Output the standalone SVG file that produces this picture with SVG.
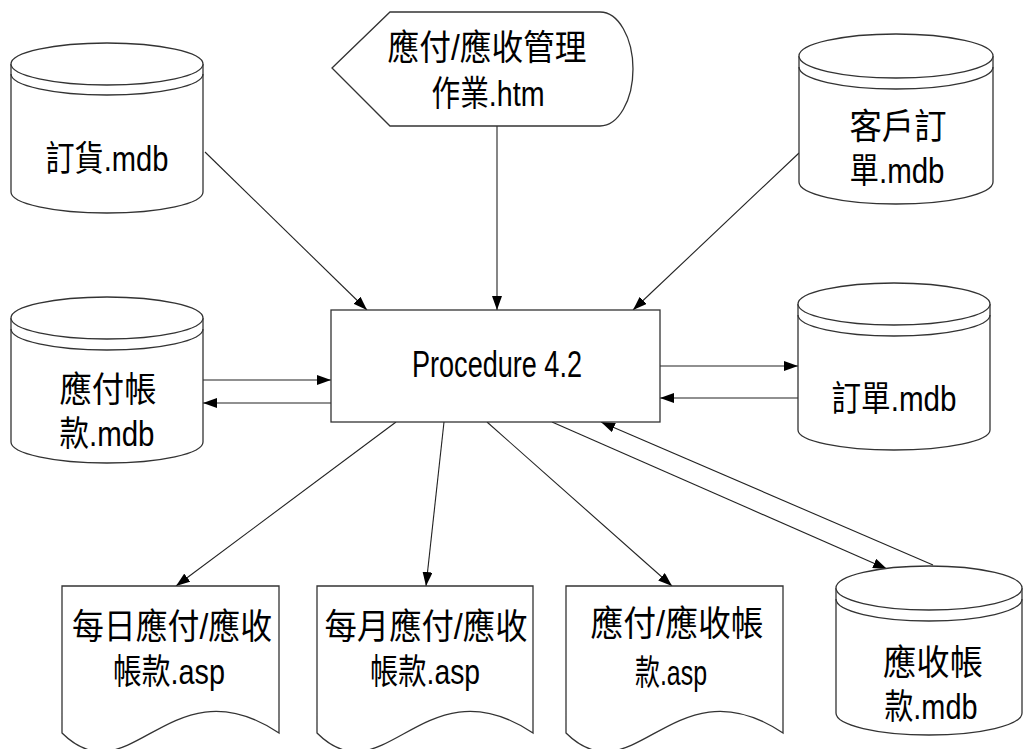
<svg xmlns="http://www.w3.org/2000/svg" width="1024" height="749" viewBox="0 0 1024 749">
<defs>
<style>
.shape{fill:#fff;stroke:#333;stroke-width:1.3}
.inner{fill:none;stroke:#333;stroke-width:1.3}
.lbl{font-family:"Liberation Sans","Noto Sans CJK TC",sans-serif;font-size:35px;fill:#000;text-anchor:middle}
.conn{fill:none;stroke:#222;stroke-width:1.1;marker-end:url(#arr)}
</style>
<marker id="arr" viewBox="0 0 14 10" refX="14" refY="5" markerWidth="14" markerHeight="10" markerUnits="userSpaceOnUse" orient="auto">
<path d="M0,0 L14,5 L0,10 z" fill="#000"/>
</marker>
</defs>
<rect width="1024" height="749" fill="#fff"/>

<g id="connectors">
<line class="conn" x1="205" y1="152" x2="367" y2="310"/>
<line class="conn" x1="497" y1="126" x2="497" y2="310"/>
<line class="conn" x1="799" y1="153" x2="633" y2="310"/>
<line class="conn" x1="203" y1="380" x2="331" y2="380"/>
<line class="conn" x1="331" y1="403" x2="203" y2="403"/>
<line class="conn" x1="660" y1="366" x2="798" y2="366"/>
<line class="conn" x1="798" y1="398" x2="660" y2="398"/>
<line class="conn" x1="396" y1="422" x2="176" y2="586"/>
<line class="conn" x1="444" y1="422" x2="426" y2="586"/>
<line class="conn" x1="487" y1="422" x2="672" y2="586"/>
<line class="conn" x1="552" y1="422" x2="887" y2="569"/>
<line class="conn" x1="933" y1="565" x2="601" y2="422"/>
</g>

<g id="proc">
<rect class="shape" x="331" y="310" width="329" height="112"/>
<text class="lbl" x="497" y="377" style="font-size:37px" textLength="170" lengthAdjust="spacingAndGlyphs">Procedure 4.2</text>
</g>

<g id="display">
<path class="shape" d="M332,68 L390,12 L600,12 A33,57 0 0 1 600,126 L390,126 Z"/>
<text class="lbl" x="487" y="60" textLength="199" lengthAdjust="spacingAndGlyphs">應付/應收管理</text>
<text class="lbl" x="488" y="106" textLength="113" lengthAdjust="spacingAndGlyphs">作業.htm</text>
</g>

<g id="db-order-goods">
<path class="shape" d="M11,64 L11,192 A96,21 0 0 0 203,192 L203,64"/>
<ellipse class="shape" cx="107" cy="64" rx="96" ry="21"/>
<path class="inner" d="M11,74 A96,21 0 0 0 203,74"/>
<text class="lbl" x="107" y="171" textLength="123" lengthAdjust="spacingAndGlyphs">訂貨.mdb</text>
</g>

<g id="db-customer-order">
<path class="shape" d="M799,56 L799,182 A97,22 0 0 0 993,182 L993,56"/>
<ellipse class="shape" cx="896" cy="56" rx="97" ry="22"/>
<path class="inner" d="M799,67 A97,22 0 0 0 993,67"/>
<text class="lbl" x="898" y="139" textLength="97" lengthAdjust="spacingAndGlyphs">客戶訂</text>
<text class="lbl" x="897" y="183" textLength="95" lengthAdjust="spacingAndGlyphs">單.mdb</text>
</g>

<g id="db-payable">
<path class="shape" d="M11,318 L11,442 A96,21 0 0 0 203,442 L203,318"/>
<ellipse class="shape" cx="107" cy="318" rx="96" ry="21"/>
<path class="inner" d="M11,329 A96,21 0 0 0 203,329"/>
<text class="lbl" x="108" y="402" textLength="97" lengthAdjust="spacingAndGlyphs">應付帳</text>
<text class="lbl" x="107" y="446" textLength="95" lengthAdjust="spacingAndGlyphs">款.mdb</text>
</g>

<g id="db-order">
<path class="shape" d="M798,304 L798,430 A96,20 0 0 0 990,430 L990,304"/>
<ellipse class="shape" cx="894" cy="304" rx="96" ry="21"/>
<path class="inner" d="M798,315 A96,21 0 0 0 990,315"/>
<text class="lbl" x="894" y="411" textLength="125" lengthAdjust="spacingAndGlyphs">訂單.mdb</text>
</g>

<g id="db-receivable">
<path class="shape" d="M836,588 L836,713 A93,22 0 0 0 1022,713 L1022,588"/>
<ellipse class="shape" cx="929" cy="588" rx="93" ry="22"/>
<path class="inner" d="M836,599 A93,22 0 0 0 1022,599"/>
<text class="lbl" x="933" y="675" textLength="100" lengthAdjust="spacingAndGlyphs">應收帳</text>
<text class="lbl" x="931" y="719" textLength="93" lengthAdjust="spacingAndGlyphs">款.mdb</text>
</g>

<g id="doc-daily">
<path class="shape" d="M62,586 L279,586 L279,733 C170,660 130,800 62,733 Z"/>
<text class="lbl" x="172" y="639" textLength="200" lengthAdjust="spacingAndGlyphs">每日應付/應收</text>
<text class="lbl" x="169" y="684" textLength="112" lengthAdjust="spacingAndGlyphs">帳款.asp</text>
</g>

<g id="doc-monthly">
<path class="shape" d="M317,586 L533,586 L533,733 C424,660 384,800 317,733 Z"/>
<text class="lbl" x="426" y="639" textLength="203" lengthAdjust="spacingAndGlyphs">每月應付/應收</text>
<text class="lbl" x="425" y="684" textLength="110" lengthAdjust="spacingAndGlyphs">帳款.asp</text>
</g>

<g id="doc-ap-ar">
<path class="shape" d="M566,586 L783,586 L783,733 C674,660 634,800 566,733 Z"/>
<text class="lbl" x="677" y="636" textLength="173" lengthAdjust="spacingAndGlyphs">應付/應收帳</text>
<text class="lbl" x="671" y="685" textLength="72" lengthAdjust="spacingAndGlyphs">款.asp</text>
</g>
</svg>
